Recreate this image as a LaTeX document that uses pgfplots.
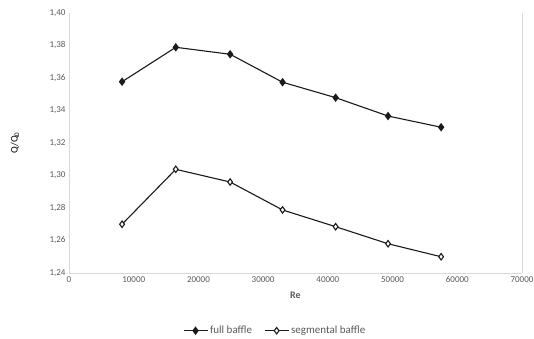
\documentclass[border=0pt]{standalone}
\usepackage{pgfplots}
\pgfplotsset{compat=1.18}
\usepackage{fontspec}
\setmainfont{Carlito}
\definecolor{axgray}{HTML}{D9D9D9}
\definecolor{txtgray}{HTML}{595959}
\definecolor{ln}{HTML}{1A1A1A}
\begin{document}
\begin{tikzpicture}
\useasboundingbox (0,0) rectangle (534bp,339bp);
\begin{axis}[
  at={(69bp,66bp)}, anchor=south west,
  scale only axis, width=453bp, height=260bp,
  xmin=0, xmax=70000, ymin=1.24, ymax=1.40,
  xtick={0,10000,...,70000},
  ytick={1.24,1.26,...,1.40},
  scaled x ticks=false, scaled y ticks=false,
  x tick label style={/pgf/number format/.cd, 1000 sep={}},
  y tick label style={/pgf/number format/.cd, use comma, fixed, fixed zerofill, precision=2},
  /pgf/number format/assume math mode=true,
  tick label style={font=\fontsize{9bp}{10bp}\selectfont, text=txtgray},
  major tick length=0pt,
  axis x line*=bottom, axis y line*=left,
  axis line style={axgray, line width=0.9bp, -},
  xlabel={\textbf{Re}}, ylabel={Q/Q\textsubscript{0}},
  xlabel style={font=\fontsize{10bp}{11bp}\selectfont, text=txtgray, at={(rel axis cs:0.5,0)}, yshift=-15bp, anchor=north},
  ylabel style={font=\fontsize{10bp}{11bp}\selectfont, text=txtgray},
  every axis y label/.style={at={(rel axis cs:0,0.5)}, xshift=-54bp, rotate=90, anchor=center},
  legend columns=2,
  legend style={draw=none, fill=none, at={(rel axis cs:0.455,-0.222)}, anchor=center,
    font=\fontsize{11bp}{12bp}\selectfont, text=txtgray, inner sep=1bp,
    /tikz/every even column/.append style={column sep=10bp}},
  legend image code/.code={\draw[#1] (0bp,0bp) -- (24bp,0bp); \draw[#1, mark repeat=1] plot coordinates {(12bp,0bp)};},
  clip=false,
]
\draw[axgray, line width=0.9bp] (rel axis cs:1,0) -- (rel axis cs:1,1);
\addplot[ln, line width=1.1bp, mark=diamond*, mark size=3.4bp, mark options={fill=ln, draw=ln}] coordinates {
 (8200,1.3577) (16500,1.3789) (24900,1.3746) (33000,1.3574) (41200,1.3479) (49300,1.3366) (57500,1.3297)};
\addlegendentry{full baffle}
\addplot[ln, line width=1.1bp, mark=diamond*, mark size=3.2bp, mark options={fill=white, draw=ln}] coordinates {
 (8200,1.2700) (16500,1.3038) (24900,1.2960) (33000,1.2788) (41200,1.2685) (49300,1.2580) (57500,1.2500)};
\addlegendentry{segmental baffle}
\end{axis}
\end{tikzpicture}
\end{document}
